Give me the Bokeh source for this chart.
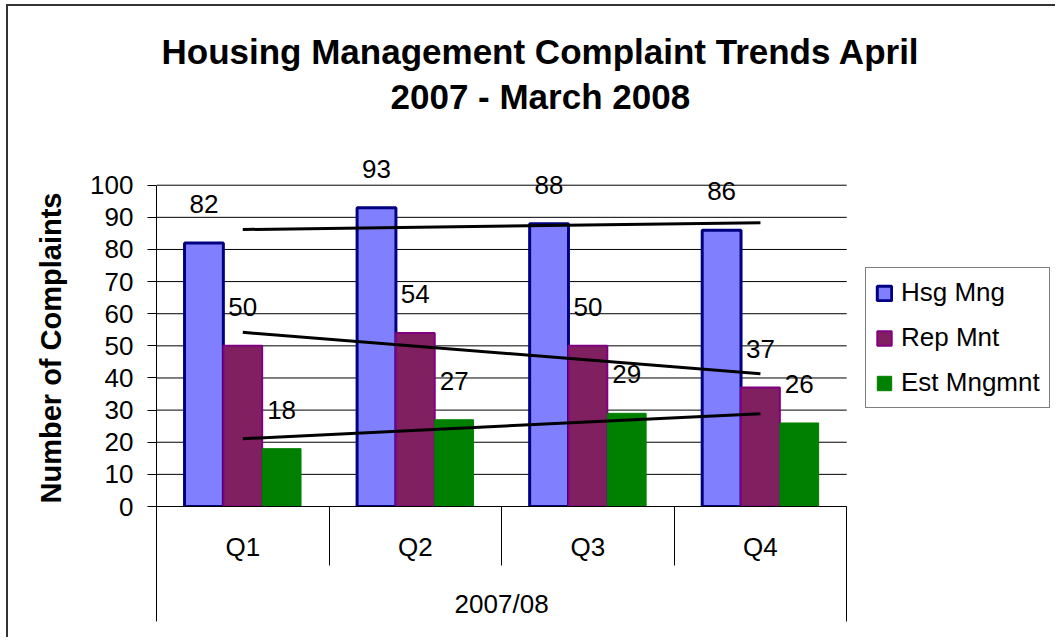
import numpy as np
from bokeh.plotting import figure
from bokeh.models import (ColumnDataSource, FixedTicker, LinearAxis, Range1d,
                          Legend, LegendItem, LabelSet, Title)
from bokeh.core.properties import value
from bokeh.embed import file_html
from bokeh.resources import INLINE

# ---- data ----
quarters = ["Q1", "Q2", "Q3", "Q4"]
year_label = "2007/08"
series_names = ["Hsg Mng", "Rep Mnt", "Est Mngmnt"]
hsg_mng = [82, 93, 88, 86]
rep_mnt = [50, 54, 50, 37]
est_mngmnt = [18, 27, 29, 26]
y_ticks = [0, 10, 20, 30, 40, 50, 60, 70, 80, 90, 100]

FONT = "Liberation Sans"

fills = ["#8080FF", "#802060", "#008000"]
lines = ["#000080", "#800080", "#008000"]
line_widths = [3, 2, 1]
bar_w = 0.225
offsets = [-bar_w, 0.0, bar_w]
n_cat = len(quarters)

# frame extends to the right so that the legend sits inside it (not clipped)
p = figure(width=1049, height=633, x_range=Range1d(0, 5.21), y_range=Range1d(0, 108),
           output_backend="svg", toolbar_location=None, x_axis_location=None,
           min_border_left=148, min_border_right=2, min_border_top=153,
           min_border_bottom=133,
           styles={"border-left": "2px solid #333333", "border-top": "2px solid #333333",
                   "margin-left": "6px", "margin-top": "4px"})
p.title.text = ""
p.outline_line_color = None
p.background_fill_color = "white"
p.border_fill_color = "white"

# titles (stacked outward from the plot frame)
spacer = Title(text="\u00a0", text_font_size="16px", text_font=FONT, standoff=23)
p.add_layout(spacer, "above")
t2 = Title(text="2007 - March 2008", align="left", text_font_size="35px",
           text_font=FONT, text_font_style="bold", text_color="black",
           standoff=4, offset=234)
p.add_layout(t2, "above")
t1 = Title(text="Housing Management Complaint Trends April", align="left",
           text_font_size="35px", text_font=FONT, text_font_style="bold",
           text_color="black", standoff=4, offset=5)
p.add_layout(t1, "above")

# y axis
yt = FixedTicker(ticks=y_ticks)
p.yaxis.ticker = yt
p.yaxis.bounds = (y_ticks[0], y_ticks[-1])
p.yaxis.major_label_text_font = FONT
p.yaxis.major_label_text_font_size = "26px"
p.yaxis.major_label_text_color = "black"
p.yaxis.major_label_standoff = 14
p.yaxis.major_tick_out = 9
p.yaxis.major_tick_in = 0
p.yaxis.minor_tick_out = 0
p.yaxis.minor_tick_in = 0
p.yaxis.axis_line_color = "black"
p.yaxis.major_tick_line_color = "black"
p.ygrid.visible = False
p.xgrid.visible = False

# horizontal gridlines limited to the category span
p.segment(x0=[0] * len(y_ticks), x1=[n_cat] * len(y_ticks), y0=y_ticks, y1=y_ticks,
          line_color="black", line_width=1)

# y axis title, centred on the 0-100 span
ytitle = Title(text="Number of Complaints", align="left", offset=3,
               text_font_size="29px", text_font=FONT, text_font_style="bold",
               text_color="black", standoff=41)
p.add_layout(ytitle, "left")

# x axes (quarters + year)
centers = [i + 0.5 for i in range(n_cat)]
bounds = [float(i) for i in range(n_cat + 1)]
ax1 = LinearAxis(ticker=FixedTicker(ticks=centers, minor_ticks=bounds),
                 bounds=(0, n_cat),
                 major_label_overrides={c: q for c, q in zip(centers, quarters)},
                 major_tick_out=0, major_tick_in=0,
                 minor_tick_out=59, minor_tick_in=0,
                 minor_tick_line_color="black", axis_line_color="black",
                 major_label_standoff=-34, major_label_text_font=FONT,
                 major_label_text_font_size="26px", major_label_text_color="black")
p.add_layout(ax1, "below")
mid = n_cat / 2
ax2 = LinearAxis(ticker=FixedTicker(ticks=[mid], minor_ticks=[bounds[0], bounds[-1]]),
                 bounds=(0, n_cat),
                 major_label_overrides={mid: year_label},
                 major_tick_out=0, major_tick_in=0,
                 minor_tick_out=57, minor_tick_in=0,
                 minor_tick_line_color="black", axis_line_color=None,
                 major_label_standoff=-33, major_label_text_font=FONT,
                 major_label_text_font_size="26px", major_label_text_color="black")
p.add_layout(ax2, "below")

# bars, labels, trend lines
renderers = []
for name, vals, off, fc, lc, lw in zip(series_names, [hsg_mng, rep_mnt, est_mngmnt],
                                        offsets, fills, lines, line_widths):
    src = ColumnDataSource(dict(x=[c + off for c in centers], top=vals,
                                label=[str(v) for v in vals]))
    r = p.vbar(x="x", top="top", width=bar_w, source=src, fill_color=fc,
               line_color=lc, line_width=lw)
    renderers.append(r)
    p.add_layout(LabelSet(x="x", y="top", text="label", source=src,
                          text_align="center", text_baseline="alphabetic",
                          y_offset=30, text_font=value(FONT),
                          text_font_size="26px", text_color="black"))

for vals in [hsg_mng, rep_mnt, est_mngmnt]:
    idx = np.arange(len(vals)) + 0.5
    k, b = np.polyfit(idx, np.array(vals, dtype=float), 1)
    p.line(x=[centers[0], centers[-1]], y=[k * centers[0] + b, k * centers[-1] + b],
           line_color="black", line_width=3)

legend = Legend(items=[LegendItem(label=n, renderers=[r]) for n, r in zip(series_names, renderers)],
                location=(709, 98), border_line_color="black", border_line_width=1,
                label_text_font=FONT, label_text_font_size="26px", label_text_color="black",
                glyph_height=18, glyph_width=18, label_height=30, spacing=14,
                padding=9, margin=0, label_standoff=8, background_fill_color="white")
p.add_layout(legend)

open("out.html", "w").write(file_html(p, INLINE))
